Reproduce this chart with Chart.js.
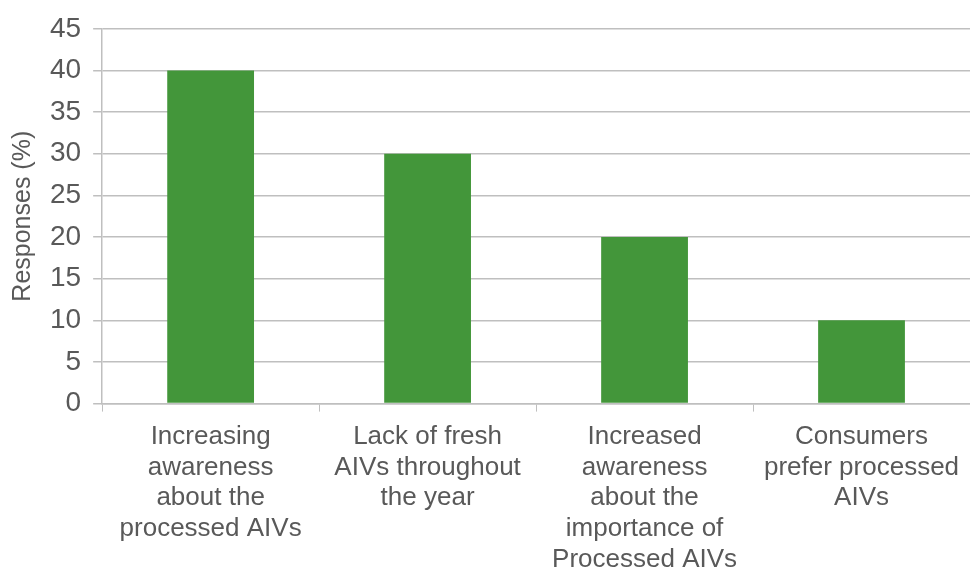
<!DOCTYPE html>
<html>
<head>
<meta charset="utf-8">
<script src="https://cdn.jsdelivr.net/npm/chart.js@4.4.1/dist/chart.umd.min.js"></script>
<style>
  html, body { margin: 0; padding: 0; background: #fff; }
  #wrap { width: 970px; height: 575px; position: relative; }
</style>
</head>
<body>
<div id="wrap"><canvas id="myChart"></canvas></div>
<script>
var categories = [
  ["Increasing", "awareness", "about the", "processed AIVs"],
  ["Lack of fresh", "AIVs throughout", "the year"],
  ["Increased", "awareness", "about the", "importance of", "Processed AIVs"],
  ["Consumers", "prefer processed", "AIVs"]
];
var responses = [40, 30, 20, 10];

var gray = "#595959";
var lineGray = "#BFBFBF";
var fontFam = "'Liberation Sans', Arial, sans-serif";

var ctx = document.getElementById("myChart");
var myChart = new Chart(ctx, {
  type: 'bar',
  data: {
    labels: categories,
    datasets: [{
      data: responses,
      backgroundColor: "#43963A",
      barPercentage: 0.4,
      categoryPercentage: 1.0
    }]
  },
  options: {
    responsive: true,
    maintainAspectRatio: false,
    animation: false,
    layout: { padding: { top: 6, right: 0, left: 8, bottom: -10 } },
    plugins: {
      legend: { display: false },
      tooltip: { enabled: false }
    },
    scales: {
      x: {
        offset: true,
        grid: {
          offset: true,
          drawOnChartArea: false,
          drawTicks: true,
          tickLength: 8,
          color: lineGray
        },
        border: { color: lineGray, width: 1.5 },
        ticks: {
          color: gray,
          maxRotation: 0,
          autoSkip: false,
          padding: 10,
          font: { family: fontFam, size: 26, lineHeight: 1.18 }
        }
      },
      y: {
        min: 0,
        max: 45,
        grid: {
          color: lineGray,
          lineWidth: 1.5,
          tickLength: 9
        },
        border: { color: lineGray, width: 1.5 },
        ticks: {
          stepSize: 5,
          color: gray,
          padding: 12,
          font: { family: fontFam, size: 28 }
        },
        title: {
          display: true,
          text: "Responses (%)",
          color: gray,
          padding: { top: 0, bottom: 0 },
          font: { family: fontFam, size: 25 }
        }
      }
    }
  }
});
</script>
</body>
</html>
